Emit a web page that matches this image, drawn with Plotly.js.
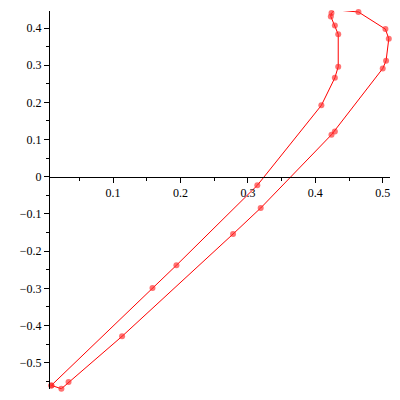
<!DOCTYPE html>
<html>
<head>
<meta charset="utf-8">
<script src="https://cdn.plot.ly/plotly-3.0.1.min.js"></script>
<style>html,body{margin:0;padding:0;background:#fff;}#chart{width:400px;height:400px;}</style>
</head>
<body>
<div id="chart"></div>
<script>
// Closed curve traced by the red polyline (x, y)
const xValues = [0.0085, 0.1585, 0.194, 0.314, 0.409, 0.429, 0.434, 0.434, 0.429, 0.423, 0.424, 0.429,
                 0.464, 0.504, 0.509, 0.505, 0.500, 0.429, 0.424, 0.319, 0.278, 0.1134, 0.034, 0.0234, 0.0085];
const yValues = [-0.561, -0.299, -0.238, -0.023, 0.192, 0.266, 0.296, 0.383, 0.407, 0.431, 0.440, 0.449,
                 0.443, 0.397, 0.371, 0.312, 0.291, 0.122, 0.113, -0.084, -0.154, -0.429, -0.552, -0.570, -0.561];
const xRange = [0.005, 0.5108];
const yRange = [-0.5707, 0.4457];

const tickFont = {family: '"Liberation Serif", "Times New Roman", serif', size: 12, color: '#000'};
const zeroPos = (0 - yRange[0]) / (yRange[1] - yRange[0]);

const trace = {
  x: xValues, y: yValues, type: 'scatter', mode: 'lines+markers',
  cliponaxis: false,
  line: {color: '#ff0000', width: 1},
  marker: {symbol: 'circle', size: 6, color: 'rgba(255,40,40,0.65)', line: {width: 0}},
  hoverinfo: 'skip'
};

const layout = {
  width: 400, height: 400,
  margin: {l: 49, r: 10, t: 11, b: 11},
  paper_bgcolor: '#fff', plot_bgcolor: '#fff',
  showlegend: false,
  xaxis: {
    range: xRange, anchor: 'free', position: zeroPos,
    showline: true, linecolor: '#000', linewidth: 1,
    showgrid: false, zeroline: false,
    tick0: 0, dtick: 0.1, ticks: 'outside', ticklen: 5, tickcolor: '#000', tickwidth: 1,
    minor: {dtick: 0.05, tick0: 0, ticks: 'outside', ticklen: 3, tickcolor: '#000', showgrid: false},
    tickfont: tickFont
  },
  yaxis: {
    range: yRange, anchor: 'free', position: 0,
    showline: true, linecolor: '#000', linewidth: 1,
    showgrid: false, zeroline: false,
    tick0: 0, dtick: 0.1, ticks: 'outside', ticklen: 5, tickcolor: '#000', tickwidth: 1,
    minor: {dtick: 0.05, tick0: 0, ticks: 'outside', ticklen: 3, tickcolor: '#000', showgrid: false},
    tickfont: tickFont
  }
};

Plotly.newPlot('chart', [trace], layout, {staticPlot: true, displayModeBar: false});
</script>
</body>
</html>
